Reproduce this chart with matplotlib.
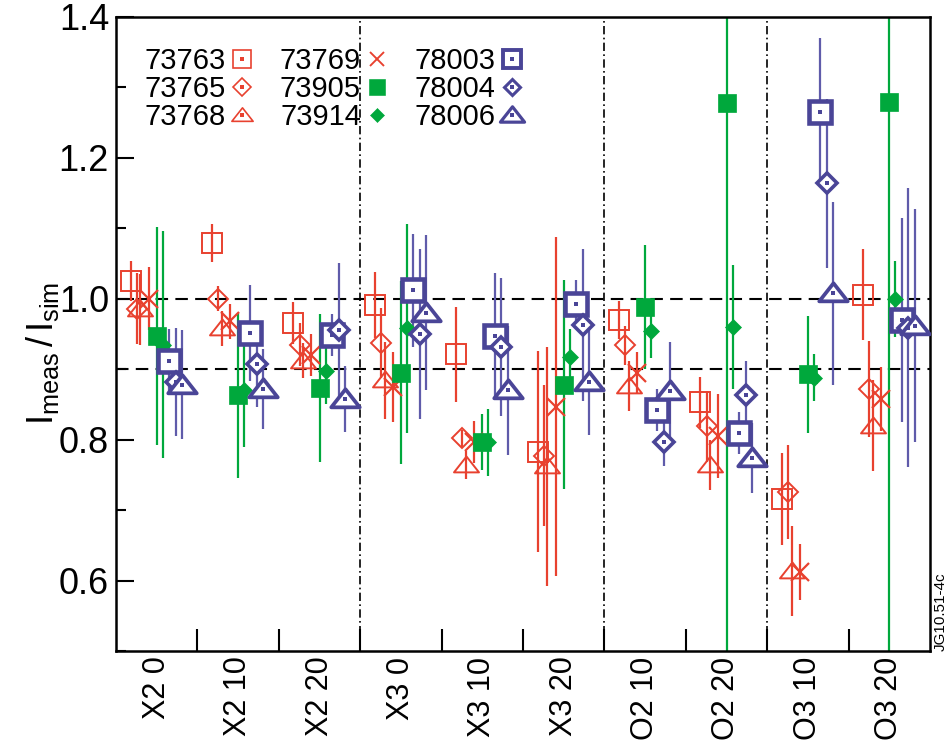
import matplotlib
matplotlib.use('Agg')
import matplotlib.pyplot as plt
from matplotlib.lines import Line2D
from matplotlib.ticker import MultipleLocator, FixedLocator
from matplotlib.path import Path
import numpy as np

plt.rcParams['font.family'] = ['Liberation Sans', 'DejaVu Sans']
plt.rcParams['mathtext.fontset'] = 'custom'
plt.rcParams['mathtext.rm'] = 'Liberation Sans'
plt.rcParams['mathtext.it'] = 'Liberation Sans'

# ---------------- data ----------------
categories = ['X2 0', 'X2 10', 'X2 20', 'X3 0', 'X3 10', 'X3 20',
              'O2 10', 'O2 20', 'O3 10', 'O3 20']

series_names = ['73763', '73765', '73768', '73769', '73905', '73914',
                '78003', '78004', '78006']

v73763 = [1.025, 1.079, 0.966, 0.991, 0.921, 0.783, 0.970, 0.853, 0.716, 1.006]
e73763 = [0.028, 0.027, 0.030, 0.047, 0.068, 0.143, 0.027, 0.036, 0.065, 0.064]

v73765 = [0.986, 1.000, 0.935, 0.937, 0.802, 0.777, 0.934, 0.819, 0.726, 0.872]
e73765 = [0.050, 0.018, 0.030, 0.050, 0.012, 0.100, 0.028, 0.050, 0.067, 0.068]

v73768 = [0.985, 0.958, 0.912, 0.884, 0.764, 0.762, 0.876, 0.764, 0.614, 0.820]
e73768 = [0.050, 0.025, 0.025, 0.055, 0.020, 0.170, 0.036, 0.036, 0.064, 0.065]

v73769 = [1.000, 0.968, 0.920, 0.875, 0.797, 0.847, 0.895, 0.805, 0.612, 0.858]
e73769 = [0.045, 0.025, 0.030, 0.050, 0.030, 0.240, 0.030, 0.060, 0.040, 0.045]

v73905 = [0.947, 0.863, 0.874, 0.895, 0.797, 0.878, 0.988, 1.278, 0.893, 1.280]
e73905 = [0.155, 0.117, 0.105, 0.130, 0.040, 0.148, 0.088, 1.000, 0.083, 1.000]

v73914 = [0.935, 0.870, 0.898, 0.958, 0.796, 0.917, 0.954, 0.960, 0.888, 1.000]
e73914 = [0.161, 0.080, 0.047, 0.148, 0.048, 0.040, 0.038, 0.088, 0.033, 0.054]

v78003 = [0.912, 0.951, 0.949, 1.012, 0.947, 0.992, 0.842, 0.809, 1.265, 0.970]
e78003 = [0.045, 0.068, 0.030, 0.080, 0.090, 0.035, 0.030, 0.030, 0.105, 0.145]

v78004 = [0.882, 0.907, 0.956, 0.950, 0.931, 0.963, 0.797, 0.864, 1.164, 0.959]
e78004 = [0.077, 0.060, 0.095, 0.120, 0.098, 0.108, 0.035, 0.047, 0.120, 0.198]

v78006 = [0.878, 0.872, 0.858, 0.980, 0.870, 0.882, 0.869, 0.774, 1.008, 0.962]
e78006 = [0.077, 0.057, 0.047, 0.110, 0.092, 0.075, 0.070, 0.050, 0.130, 0.165]

values = [v73763, v73765, v73768, v73769, v73905, v73914, v78003, v78004, v78006]
errors = [e73763, e73765, e73768, e73769, e73905, e73914, e78003, e78004, e78006]

yticks = [0.6, 0.8, 1.0, 1.2, 1.4]

# ---------------- styles ----------------
RED = '#E8412F'
GREEN = '#00A83C'
BLUE = '#4A4597'
BLUE_L = '#5F5BAA'

tri = Path([(0, 0.72), (-1, -0.55), (1, -0.55), (0, 0.72)],
           [Path.MOVETO, Path.LINETO, Path.LINETO, Path.CLOSEPOLY])
offsets = [-0.32, -0.245, -0.2, -0.1, 0.0, 0.075, 0.15, 0.235, 0.31]
styles = [
    dict(marker='s', ms=14.5, mfc='none', mec=RED, mew=1.4, ecolor=RED, dot=True),
    dict(marker='D', ms=10.5, mfc='none', mec=RED, mew=1.4, ecolor=RED, dot=True),
    dict(marker=tri, ms=18, mfc='none', mec=RED, mew=1.4, ecolor=RED, dot=True),
    dict(marker='x', ms=12.5, mfc=RED, mec=RED, mew=1.6, ecolor=RED, dot=False),
    dict(marker='s', ms=13.5, mfc=GREEN, mec=GREEN, mew=0.5, ecolor=GREEN, dot=False),
    dict(marker='D', ms=8.5, mfc=GREEN, mec=GREEN, mew=0.5, ecolor=GREEN, dot=False),
    dict(marker='s', ms=15.5, mfc='white', mec=BLUE, mew=3.3, ecolor=BLUE_L, dot=True),
    dict(marker='D', ms=10, mfc='white', mec=BLUE, mew=2.6, ecolor=BLUE_L, dot=True),
    dict(marker=tri, ms=20.5, mfc='white', mec=BLUE, mew=2.7, ecolor=BLUE_L, dot=True),
]

fig = plt.figure(figsize=(9.53, 7.46), dpi=100)
ax = fig.add_axes([116 / 953, 1 - 651 / 746, (930 - 116) / 953, (651 - 17) / 746])

xc = np.arange(len(categories))
legend_handles = []
LS = 0.85  # legend marker scale
for name, vals, errs, off, st in zip(series_names, values, errors, offsets, styles):
    x = xc + off
    col = st['mec']
    ax.errorbar(x, vals, yerr=errs, fmt='none', ecolor=st['ecolor'], elinewidth=1.6,
                capsize=0, zorder=2)
    ax.plot(x, vals, linestyle='none', marker=st['marker'], ms=st['ms'], mfc=st['mfc'],
            mec=col, mew=st['mew'], zorder=3)
    h_m = Line2D([], [], linestyle='none', marker=st['marker'], ms=st['ms'] * LS,
                 mfc=st['mfc'], mec=col, mew=st['mew'] * LS)
    if st['dot'] and st['mfc'] == 'white':
        ax.plot(x, vals, linestyle='none', marker='s', ms=2.5, mfc=col, mec=col, mew=0, zorder=4)
    if st['dot']:
        h_d = Line2D([], [], linestyle='none', marker='s', ms=2.5, mfc=col, mec=col, mew=0)
        legend_handles.append((h_m, h_d))
    else:
        legend_handles.append(h_m)

# reference lines
for yv in (1.0, 0.9):
    ax.axhline(yv, color='black', lw=1.5, linestyle=(0, (6, 3.5)), zorder=1)
for xb in (2.5, 5.5, 7.5):
    ax.axvline(xb, color='black', lw=1.2, linestyle=(0, (5, 2, 1, 2)), zorder=1)

ax.set_xlim(-0.5, len(categories) - 0.5)
ax.set_ylim(0.5, 1.4)

# x ticks: labels at centres, tick marks at boundaries
ax.xaxis.set_major_locator(FixedLocator(xc))
ax.set_xticklabels(categories, rotation=90, fontsize=22)
ax.xaxis.set_minor_locator(FixedLocator(np.arange(0.5, len(categories) - 0.5, 1.0)))
ax.tick_params(axis='x', which='major', length=0, pad=4)
ax.tick_params(axis='x', which='minor', direction='in', length=16, width=1.5)

ax.set_yticks(yticks)
ax.set_yticklabels(['%.1f' % t for t in yticks], fontsize=26)
ax.yaxis.set_minor_locator(MultipleLocator(0.1))
ax.tick_params(axis='y', which='major', direction='in', length=13, width=1.5, pad=5)
ax.tick_params(axis='y', which='minor', direction='in', length=7, width=1.5)

for sp in ax.spines.values():
    sp.set_linewidth(1.8)

ax.set_ylabel(r'$\mathregular{I_{meas}\,/\,I_{sim}}$', fontsize=26)
ax.yaxis.set_label_coords(-0.068, 0.47)

ax.legend(legend_handles, series_names, ncol=3, markerfirst=False, frameon=False,
          loc='upper left', bbox_to_anchor=(0.01, 0.985), fontsize=21,
          handlelength=0.9, handletextpad=0.1, columnspacing=0.85, labelspacing=0.0,
          borderpad=0.2)

fig.text(0.987, 0.128, 'JG10.51-4c', rotation=90, fontsize=11, va='bottom', ha='center')

fig.savefig('out.png', dpi=100)
